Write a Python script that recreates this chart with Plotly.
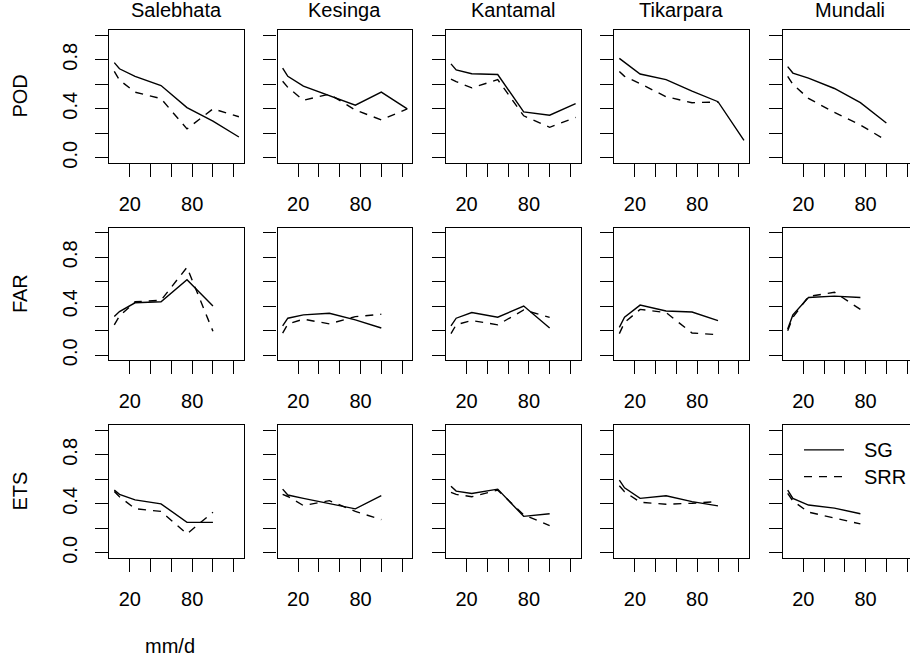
import plotly.graph_objects as go

W, H = 910, 667
FONT = "Liberation Sans, Arial, Helvetica, sans-serif"

x_vals = [5, 10, 25, 50, 75, 100, 125]
stations = ["Salebhata", "Kesinga", "Kantamal", "Tikarpara", "Mundali"]
metrics = ["POD", "FAR", "ETS"]
x_tickvals = [20, 40, 60, 80, 100, 120]
x_ticktext = ["20", "", "", "80", "", ""]
y_tickvals = [0, 0.2, 0.4, 0.6, 0.8, 1.0]
y_ticktext = ["0.0", "", "0.4", "", "0.8", ""]

POD_SG = {
    "Salebhata": [0.777, 0.727, 0.665, 0.59, 0.41, 0.30, 0.17],
    "Kesinga":   [0.732, 0.665, 0.585, 0.51, 0.43, 0.536, 0.40],
    "Kantamal":  [0.767, 0.718, 0.686, 0.68, 0.375, 0.348, 0.442],
    "Tikarpara": [0.812, 0.78, 0.684, 0.638, 0.544, 0.458, 0.142],
    "Mundali":   [0.745, 0.692, 0.651, 0.566, 0.45, 0.284, None],
}
POD_SRR = {
    "Salebhata": [0.705, 0.635, 0.536, 0.483, 0.236, 0.40, 0.335],
    "Kesinga":   [0.625, 0.575, 0.47, 0.52, 0.39, 0.31, 0.40],
    "Kantamal":  [0.643, 0.622, 0.571, 0.638, 0.343, 0.249, 0.33],
    "Tikarpara": [0.705, 0.665, 0.606, 0.499, 0.45, 0.456, None],
    "Mundali":   [0.665, 0.60, 0.485, 0.37, 0.268, 0.142, None],
}
FAR_SG = {
    "Salebhata": [0.316, 0.357, 0.429, 0.437, 0.617, 0.402, None],
    "Kesinga":   [0.241, 0.303, 0.33, 0.343, 0.29, 0.223, None],
    "Kantamal":  [0.241, 0.303, 0.349, 0.311, 0.402, 0.223, None],
    "Tikarpara": [0.228, 0.311, 0.41, 0.362, 0.354, 0.284, None],
    "Mundali":   [0.214, 0.33, 0.472, 0.483, 0.472, None, None],
}
FAR_SRR = {
    "Salebhata": [0.249, 0.32, 0.437, 0.45, 0.718, 0.196, None],
    "Kesinga":   [0.182, 0.255, 0.295, 0.257, 0.316, 0.335, None],
    "Kantamal":  [0.177, 0.25, 0.284, 0.249, 0.37, 0.31, None],
    "Tikarpara": [0.177, 0.268, 0.375, 0.349, 0.182, 0.169, None],
    "Mundali":   [0.20, 0.31, 0.48, 0.515, 0.375, None, None],
}
ETS_SG = {
    "Salebhata": [0.512, 0.477, 0.432, 0.40, 0.249, 0.249, None],
    "Kesinga":   [0.52, 0.472, 0.445, 0.405, 0.359, 0.466, None],
    "Kantamal":  [0.544, 0.504, 0.485, 0.52, 0.298, 0.319, None],
    "Tikarpara": [0.593, 0.531, 0.445, 0.466, 0.418, 0.383, None],
    "Mundali":   [0.512, 0.445, 0.39, 0.365, 0.319, None, None],
}
ETS_SRR = {
    "Salebhata": [0.50, 0.458, 0.36, 0.338, 0.155, 0.332, None],
    "Kesinga":   [0.477, 0.46, 0.386, 0.426, 0.338, 0.271, None],
    "Kantamal":  [0.493, 0.477, 0.458, 0.512, 0.311, 0.222, None],
    "Tikarpara": [0.547, 0.499, 0.413, 0.397, 0.405, 0.418, None],
    "Mundali":   [0.485, 0.424, 0.332, 0.284, 0.236, None, None],
}
SG = {"POD": POD_SG, "FAR": FAR_SG, "ETS": ETS_SG}
SRR = {"POD": POD_SRR, "FAR": FAR_SRR, "ETS": ETS_SRR}

# layout geometry (pixels)
col_left = [109.3 + i * 168.35 for i in range(5)]
col_w = 134.6
row_top = [30.7 + j * 199.3 for j in range(3)]
row_h = 133.5
x_lo, x_hi = 0.2, 129.8
LW = 1.4


def px(xp):
    return xp / W


def py(yp):
    return 1 - yp / H


fig = go.Figure()
layout = dict(width=W, height=H, autosize=False,
              margin=dict(l=0, r=0, t=0, b=0, pad=0),
              paper_bgcolor="white", plot_bgcolor="white",
              showlegend=False, font=dict(family=FONT, size=20, color="black"))
annotations = []
shapes = []

for j, m in enumerate(metrics):
    for i, st in enumerate(stations):
        k = j * 5 + i + 1
        xa = "x" if k == 1 else f"x{k}"
        ya = "y" if k == 1 else f"y{k}"
        left = col_left[i]
        right = left + col_w
        xr = [x_lo, x_hi]
        mirror_y = True
        if right > W:
            xr = [x_lo, x_lo + (x_hi - x_lo) * (W - left) / col_w]
            right = W
            mirror_y = False
        top = row_top[j]
        bot = top + row_h
        fig.add_trace(go.Scatter(x=x_vals, y=SG[m][st], mode="lines",
                                 line=dict(color="black", width=LW),
                                 xaxis=xa, yaxis=ya, name="SG"))
        fig.add_trace(go.Scatter(x=x_vals, y=SRR[m][st], mode="lines",
                                 line=dict(color="black", width=LW, dash="8px,7px"),
                                 xaxis=xa, yaxis=ya, name="SRR"))
        xkey = "xaxis" if k == 1 else f"xaxis{k}"
        ykey = "yaxis" if k == 1 else f"yaxis{k}"
        layout[xkey] = dict(domain=[left / W, right / W], range=xr, anchor=ya,
                            showgrid=False, zeroline=False, showline=True,
                            linecolor="black", linewidth=LW, mirror=True,
                            ticks="outside", ticklen=13, tickwidth=LW, tickcolor="black",
                            tickvals=x_tickvals, ticktext=x_ticktext,
                            ticklabelstandoff=10,
                            tickfont=dict(family=FONT, size=20, color="black"))
        layout[ykey] = dict(domain=[1 - bot / H, 1 - top / H], range=[-0.04, 1.04],
                            anchor=xa, showgrid=False, zeroline=False, showline=True,
                            linecolor="black", linewidth=LW,
                            mirror=mirror_y,
                            ticks="outside", ticklen=13, tickwidth=LW, tickcolor="black",
                            tickvals=y_tickvals,
                            ticktext=y_ticktext if i == 0 else [""] * 6,
                            tickangle=-90, ticklabelstandoff=10,
                            tickfont=dict(family=FONT, size=20, color="black"))
        if j == 0:
            annotations.append(dict(x=(left + col_w / 2) / W, y=py(10),
                                    xref="paper", yref="paper", text=st,
                                    showarrow=False, xanchor="center", yanchor="middle",
                                    font=dict(family=FONT, size=20, color="black")))
    annotations.append(dict(x=px(20), y=1 - (row_top[j] + row_h / 2) / H,
                            xref="paper", yref="paper", text=m, textangle=-90,
                            showarrow=False, xanchor="center", yanchor="middle",
                            font=dict(family=FONT, size=20, color="black")))

annotations.append(dict(x=px(170), y=py(652), xref="paper", yref="paper",
                        text="mm/d", showarrow=False, xanchor="center", yanchor="middle",
                        font=dict(family=FONT, size=20, color="black")))

# legend (bottom-right panel)
leg_items = [("SG", "solid", 454), ("SRR", "8px,7px", 481)]
for name, dash, yp in leg_items:
    shapes.append(dict(type="line", xref="paper", yref="paper",
                       x0=px(804), x1=px(844), y0=py(yp), y1=py(yp),
                       line=dict(color="black", width=LW, dash=dash)))
    annotations.append(dict(x=px(862), y=py(yp), xref="paper", yref="paper",
                            text=name, showarrow=False, xanchor="left", yanchor="middle",
                            font=dict(family=FONT, size=20, color="black")))

layout["annotations"] = annotations
layout["shapes"] = shapes
fig.update_layout(**layout)
fig.write_html(
    "out.html",
    config={"displayModeBar": False},
    post_script="document.body.style.margin='0px';"
                "document.documentElement.style.overflow='hidden';",
)
